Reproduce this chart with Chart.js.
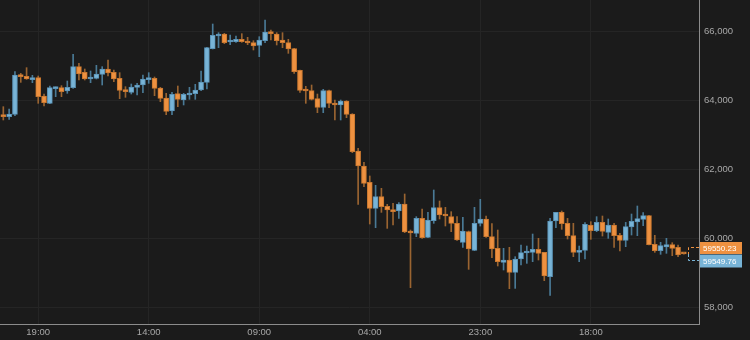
<!DOCTYPE html>
<html>
<head>
<meta charset="utf-8">
<script src="https://cdn.jsdelivr.net/npm/chart.js@4.4.0/dist/chart.umd.min.js"></script>
<style>
  html, body { margin: 0; padding: 0; background: #1b1b1b; }
  #wrap { width: 750px; height: 340px; }
</style>
</head>
<body>
<div id="wrap"><canvas id="candles" width="750" height="340"></canvas></div>
<script>
// hourly candles
const opens = [63574, 63525, 63593, 64733, 64694, 64598, 64656, 64124, 63912, 64337,
  64366, 64269, 64366, 64975, 64810, 64617, 64636, 64752, 64907, 64810,
  64636, 64308, 64231, 64376, 64443, 64598, 64636, 64356, 64066, 63690,
  64192, 64008, 64153, 64192, 64298, 64520, 65496, 65864, 65922, 65690,
  65699, 65767, 65719, 65670, 65593, 65728, 65979, 65922, 65748, 65670,
  65496, 64868, 64308, 64279, 64047, 63796, 64279, 63902, 63864, 63979,
  63603, 62530, 62095, 61622, 60868, 61206, 60926, 60820, 60791, 60994,
  60192, 60144, 60578, 60028, 60511, 60888, 60675, 60627, 60434, 59883,
  60192, 59651, 60434, 60559, 60047, 59709, 59303, 59371, 59013, 59400,
  59574, 59593, 59680, 59593, 58887, 60501, 60752, 60434, 60076, 59593,
  59651, 60385, 60221, 60462, 60173, 60385, 60086, 59941, 60327, 60472,
  60549, 60656, 59825, 59641, 59747, 59815, 59738, 59550.23];
const highs = [63815, 63748, 64830, 64781, 64946, 64723, 64704, 64182, 64414, 64385,
  64424, 64559, 65332, 65071, 64907, 64849, 65013, 64975, 65168, 64878,
  64801, 64395, 64472, 64491, 64733, 64801, 64675, 64376, 64202, 64231,
  64414, 64202, 64376, 64462, 64849, 65535, 66211, 65960, 65941, 65892,
  65864, 65931, 65825, 65728, 65844, 66327, 66037, 65960, 65960, 65767,
  65506, 64878, 64405, 64443, 64182, 64318, 64298, 64008, 64008, 63989,
  63612, 62607, 62202, 61806, 61535, 61448, 60984, 61013, 61032, 61284,
  60240, 60627, 60849, 60752, 61400, 61081, 60897, 60772, 60627, 60607,
  60211, 60897, 61129, 60646, 60424, 60240, 59709, 59738, 59467, 59805,
  59776, 60124, 59999, 59593, 60578, 60752, 60791, 60578, 60434, 59776,
  60453, 60482, 60627, 60646, 60559, 60434, 60144, 60462, 60704, 60936,
  60743, 60665, 60086, 59883, 59999, 59873, 59805, 59560];
const lows = [63429, 63448, 63554, 64520, 64607, 64511, 63912, 63834, 63902, 64105,
  64105, 64202, 64347, 64588, 64588, 64511, 64617, 64443, 64704, 64540,
  64047, 64086, 64182, 64153, 64221, 64491, 64134, 63960, 63583, 63583,
  63815, 63864, 64028, 64028, 64279, 64327, 65487, 65525, 65641, 65612,
  65680, 65680, 65612, 65458, 65265, 65670, 65748, 65603, 65525, 65361,
  64781, 64231, 63912, 64008, 63641, 63641, 63786, 63429, 63429, 63496,
  62482, 60984, 61496, 60414, 60308, 60752, 60288, 60385, 60578, 60163,
  58569, 60047, 59999, 60018, 60434, 60559, 60356, 60192, 59941, 59738,
  59100, 59641, 60356, 60028, 59438, 59197, 59081, 58540, 58549, 59226,
  59274, 59322, 59371, 58772, 58346, 60308, 60260, 59979, 59467, 59322,
  59400, 59970, 60192, 60066, 59999, 59738, 59632, 59757, 60095, 60076,
  60366, 59805, 59593, 59535, 59564, 59496, 59467, 59540];
const closes = [63525, 63603, 64733, 64685, 64617, 64656, 64105, 63931, 64366, 64376,
  64250, 64376, 64975, 64762, 64617, 64656, 64762, 64907, 64791, 64617,
  64289, 64250, 64385, 64443, 64617, 64636, 64347, 64057, 63680, 64173,
  64028, 64173, 64211, 64298, 64530, 65525, 65883, 65902, 65670, 65728,
  65767, 65699, 65661, 65574, 65748, 65979, 65931, 65728, 65670, 65487,
  64830, 64289, 64269, 64028, 63796, 64279, 63912, 63864, 63979, 63593,
  62511, 62095, 61593, 60868, 61206, 60917, 60820, 60772, 60994, 60182,
  60153, 60578, 60018, 60530, 60888, 60675, 60646, 60434, 59950, 60211,
  59690, 60434, 60559, 60047, 59690, 59322, 59371, 59013, 59400, 59583,
  59612, 59680, 59564, 58907, 60501, 60752, 60424, 60076, 59593, 59641,
  60404, 60221, 60462, 60202, 60385, 60076, 59941, 60337, 60491, 60569,
  60656, 59815, 59641, 59786, 59815, 59709, 59516, 59549.76];

const xTickIndex = [6, 25, 44, 63, 82, 101];
const xTickLabels = ['19:00', '14:00', '09:00', '04:00', '23:00', '18:00'];
const yTickValues = [58000, 60000, 62000, 64000, 66000];
const lastPrices = [59550.23, 59549.76];

const upFill = '#78b4d7', upLine = '#5b93b6', upWick = '#4a7a96';
const downFill = '#ee9140', downLine = '#c8772f', downWick = '#9a6431';
const gridColor = '#252525';
const axisColor = '#8c8c8c';
const textColor = '#a8a8a8';
const fontFamily = '"Liberation Sans", Arial, sans-serif';

const isUp = opens.map((o, i) => closes[i] >= o);
const bodies = opens.map((o, i) => ({ x: i, y: [o, closes[i]] }));
const wicks = lows.map((l, i) => ({ x: i, y: [l, highs[i]] }));

// no extra room around the plot for half tick labels
const noPad = s => { s.paddingTop = 0; s.paddingBottom = 0; s.paddingLeft = 0; s.paddingRight = 0; };

const lastPricePlugin = {
  id: 'lastPrice',
  afterDraw(chart) {
    const { ctx, chartArea, scales } = chart;
    const y = Math.round(scales.y.getPixelForValue(lastPrices[0]));
    const x0 = Math.round(scales.x.getPixelForValue(opens.length - 1)) + 4;
    const x1 = chartArea.right;
    ctx.save();
    ctx.lineWidth = 1;
    ctx.setLineDash([3, 2]);
    // top half orange, bottom half blue
    ctx.strokeStyle = downFill;
    ctx.beginPath();
    ctx.moveTo(x1, y - 6.5); ctx.lineTo(x0 + 0.5, y - 6.5); ctx.lineTo(x0 + 0.5, y);
    ctx.stroke();
    ctx.strokeStyle = upFill;
    ctx.beginPath();
    ctx.moveTo(x0 + 0.5, y); ctx.lineTo(x0 + 0.5, y + 6.5); ctx.lineTo(x1, y + 6.5);
    ctx.stroke();
    ctx.setLineDash([]);

    const lx = chartArea.right + 1;
    const w = 42;
    ctx.font = '8px ' + fontFamily;
    ctx.textBaseline = 'middle';
    ctx.textAlign = 'left';
    // orange label (above)
    ctx.fillStyle = downFill;
    ctx.fillRect(lx, y - 12, w, 12);
    ctx.fillStyle = '#ffffff';
    ctx.fillText(lastPrices[0].toFixed(2), lx + 3, y - 5.5);
    // blue label (below)
    ctx.fillStyle = upFill;
    ctx.fillRect(lx, y + 0.5, w, 13);
    ctx.fillStyle = '#ffffff';
    ctx.fillText(lastPrices[1].toFixed(2), lx + 3, y + 7.5);
    ctx.restore();
  }
};

const ctx = document.getElementById('candles').getContext('2d');
new Chart(ctx, {
  type: 'bar',
  data: {
    datasets: [
      {
        label: 'body',
        data: bodies,
        backgroundColor: isUp.map(u => u ? upFill : downFill),
        borderColor: isUp.map(u => u ? upLine : downLine),
        borderWidth: 1,
        borderSkipped: false,
        barThickness: 5,
        minBarLength: 2,
        grouped: false
      },
      {
        label: 'wick',
        data: wicks,
        backgroundColor: isUp.map(u => u ? upWick : downWick),
        borderWidth: 0,
        barThickness: 1,
        grouped: false
      }
    ]
  },
  options: {
    responsive: false,
    animation: false,
    devicePixelRatio: 1,
    layout: { padding: 0 },
    plugins: { legend: { display: false }, tooltip: { enabled: false } },
    scales: {
      x: {
        type: 'linear',
        min: -0.57,
        max: 119.6,
        offset: false,
        grid: { color: gridColor, drawTicks: false, offset: false },
        border: { color: axisColor, width: 1 },
        ticks: {
          color: textColor,
          font: { family: fontFamily, size: 9.5 },
          padding: 3,
          maxRotation: 0,
          autoSkip: false,
          callback: v => xTickLabels[xTickIndex.indexOf(v)]
        },
        afterBuildTicks: s => { s.ticks = xTickIndex.map(v => ({ value: v })); },
        afterFit: s => { s.height = 16; noPad(s); }
      },
      y: {
        position: 'right',
        min: 57516,
        max: 66907,
        grid: { color: gridColor, drawTicks: false },
        border: { color: axisColor, width: 1 },
        ticks: {
          color: textColor,
          font: { family: fontFamily, size: 9.5 },
          padding: 5,
          callback: v => v.toLocaleString('en-US')
        },
        afterBuildTicks: s => { s.ticks = yTickValues.map(v => ({ value: v })); },
        afterFit: s => { s.width = 51; noPad(s); }
      }
    }
  },
  plugins: [lastPricePlugin]
});
</script>
</body>
</html>
